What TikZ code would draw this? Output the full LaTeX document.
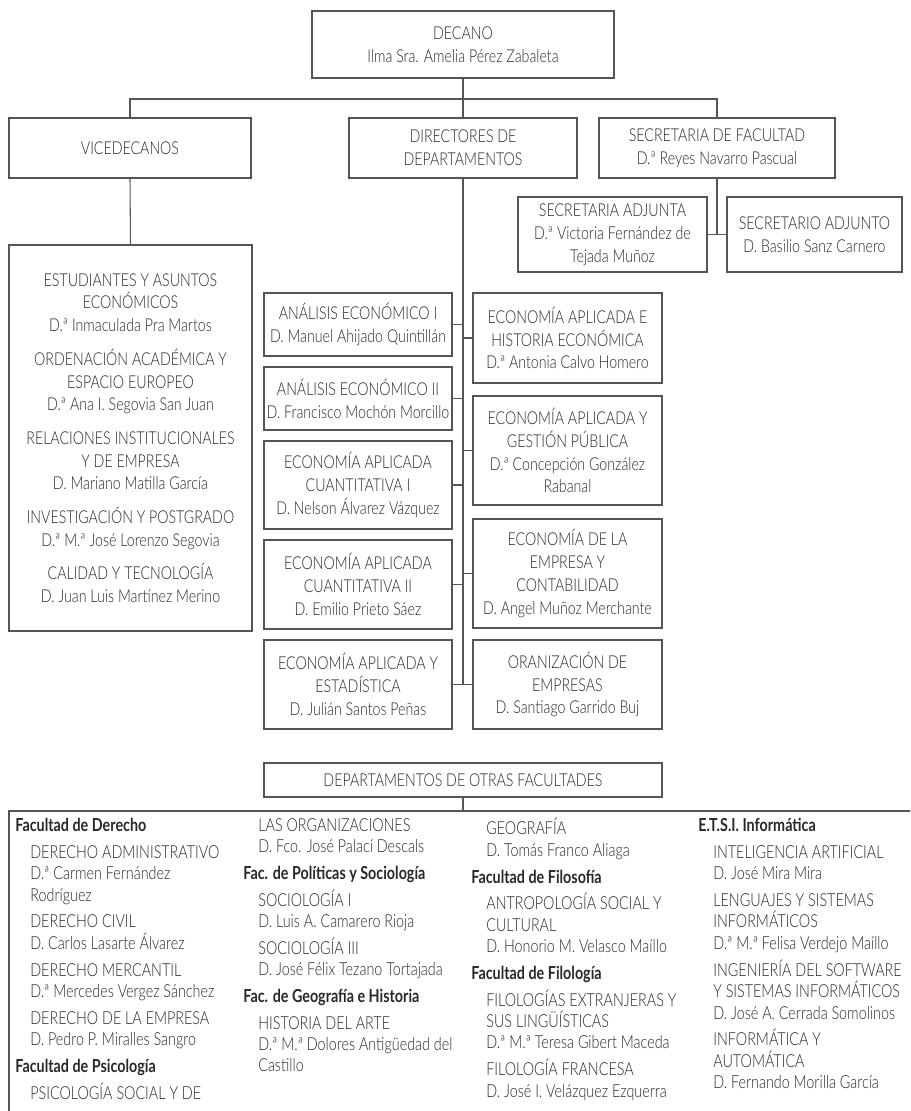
\documentclass[tikz,border=0pt]{standalone}
\usepackage{fontspec}
\setmainfont{Lato}[UprightFont=* Light, BoldFont=* Bold, FakeStretch=0.80]
\definecolor{inkgray}{RGB}{40,40,40}
\definecolor{linegray}{RGB}{85,85,85}
\tikzset{
  box-size/.style 2 args={minimum width=#1*0.2mm, minimum height=#2*0.2mm},
  org-box/.style={
    draw=linegray,
    line width=0.6pt,
    inner sep=0pt,
    align=center,
    text=inkgray,
    font=\fontsize{10.1}{13}\selectfont
  },
  link/.style={draw=linegray, line width=0.6pt},
  col-text/.style={
    anchor=north west,
    inner sep=0pt,
    align=left,
    text=inkgray,
    font=\fontsize{10.2}{12.2}\selectfont
  }
}
\newcommand{\fachead}[1]{\textbf{#1}}
\newcommand{\deptline}[1]{\hspace*{3mm}#1}

\begin{document}
\begin{tikzpicture}[x=0.2mm, y=-0.2mm]
  \useasboundingbox (0,0) rectangle (910,1111);
  \clip (0,0) rectangle (910,1111);

  % Top level
  \node[org-box, box-size={302}{67}] (decano) at (463,44.5) {DECANO\\Ilma Sra. Amelia Pérez Zabaleta};
  \coordinate (bus) at (463,99);

  \node[org-box, box-size={242}{60}] (vice) at (130,148) {VICEDECANOS};
  \node[org-box, box-size={228}{60}] (dir) at (463,148) {DIRECTORES DE\\DEPARTAMENTOS};
  \node[org-box, box-size={236}{60}] (secr) at (717,148) {SECRETARIA DE FACULTAD\\D.ª Reyes Navarro Pascual};

  % Secretarias adjuntas
  \node[org-box, box-size={189}{75}] (secadja) at (612.5,234.5) {SECRETARIA ADJUNTA\\D.ª Victoria Fernández de\\Tejada Muñoz};
  \node[org-box, box-size={175}{75}] (secadjo) at (814.5,234.5) {SECRETARIO ADJUNTO\\D. Basilio Sanz Carnero};

  % Vicedecanos list
  \node[org-box, box-size={243}{386}] (vicelist) at (130.5,438) {%
    ESTUDIANTES Y ASUNTOS\\ECONÓMICOS\\D.ª Inmaculada Pra Martos\\[6pt]
    ORDENACIÓN ACADÉMICA Y\\ESPACIO EUROPEO\\D.ª Ana I. Segovia San Juan\\[6pt]
    RELACIONES INSTITUCIONALES\\Y DE EMPRESA\\D. Mariano Matilla García\\[6pt]
    INVESTIGACIÓN Y POSTGRADO\\D.ª M.ª José Lorenzo Segovia\\[6pt]
    CALIDAD Y TECNOLOGÍA\\D. Juan Luis Martínez Merino};

  % Departamentos, left column
  \node[org-box, box-size={188}{63}] (anaeco1) at (358,324.5) {ANÁLISIS ECONÓMICO I\\D. Manuel Ahijado Quintillán};
  \node[org-box, box-size={188}{63}] (anaeco2) at (358,398.5) {ANÁLISIS ECONÓMICO II\\D. Francisco Mochón Morcillo};
  \node[org-box, box-size={188}{88}] (eacuant1) at (358,485) {ECONOMÍA APLICADA\\CUANTITATIVA I\\D. Nelson Álvarez Vázquez};
  \node[org-box, box-size={188}{89}] (eacuant2) at (358,584.5) {ECONOMÍA APLICADA\\CUANTITATIVA II\\D. Emilio Prieto Sáez};
  \node[org-box, box-size={188}{89}] (eaest) at (358,684.5) {ECONOMÍA APLICADA Y\\ESTADÍSTICA\\D. Julián Santos Peñas};

  % Departamentos, right column
  \node[org-box, box-size={189}{90}] (eahist) at (567.5,338) {ECONOMÍA APLICADA E\\HISTORIA ECONÓMICA\\D.ª Antonia Calvo Homero};
  \node[org-box, box-size={189}{109}] (eagest) at (567.5,450.5) {ECONOMÍA APLICADA Y\\GESTIÓN PÚBLICA\\D.ª Concepción González\\Rabanal};
  \node[org-box, box-size={189}{109}] (eemp) at (567.5,573.5) {ECONOMÍA DE LA\\EMPRESA Y\\CONTABILIDAD\\D. Angel Muñoz Merchante};
  \node[org-box, box-size={189}{89}] (orgemp) at (567.5,684.5) {ORANIZACIÓN DE\\EMPRESAS\\D. Santiago Garrido Buj};

  % Otras facultades
  \node[org-box, box-size={398}{34}] (otras) at (463,780) {DEPARTAMENTOS DE OTRAS FACULTADES};
  \coordinate (panel) at (9,811);

  % Tree lines
  \draw[link] (decano.south) -- (bus);
  \draw[link] (vice.north) -- (vice.north |- bus) -- (secr.north |- bus) -- (secr.north);
  \draw[link] (bus) -- (dir.north);
  \draw[link] (vice.south) -- (vicelist.north);
  \draw[link] (secr.south) -- (secr.south |- secadja.east);
  \draw[link] (secadja.east) -- (secadjo.west);

  % Spine of the departments
  \draw[link] (dir.south) -- (dir.south |- eaest.east);
  \foreach \dep in {anaeco1, anaeco2, eacuant1, eacuant2, eaest}
    \draw[link] (\dep.east) -- (\dep.east -| dir.south);
  \foreach \dep in {eahist, eagest, eemp, orgemp}
    \draw[link] (\dep.west) -- (\dep.west -| dir.south);

  % Lower panel
  \draw[link] (otras.south) -- (otras.south |- panel);
  \draw[link] (9,1140) -- (panel) -- (930,811);

  \node[col-text] (col-a) at (15,818) {%
    \fachead{Facultad de Derecho}\\[3pt]
    \deptline{DERECHO ADMINISTRATIVO}\\
    \deptline{D.ª Carmen Fernández}\\
    \deptline{Rodríguez}\\[3pt]
    \deptline{DERECHO CIVIL}\\
    \deptline{D. Carlos Lasarte Álvarez}\\[3pt]
    \deptline{DERECHO MERCANTIL}\\
    \deptline{D.ª Mercedes Vergez Sánchez}\\[3pt]
    \deptline{DERECHO DE LA EMPRESA}\\
    \deptline{D. Pedro P. Miralles Sangro}\\[3pt]
    \fachead{Facultad de Psicología}\\[3pt]
    \deptline{PSICOLOGÍA SOCIAL Y DE}};

  \node[col-text] (col-b) at (243,818) {%
    \deptline{LAS ORGANIZACIONES}\\
    \deptline{D. Fco. José Palací Descals}\\[3pt]
    \fachead{Fac. de Políticas y Sociología}\\[3pt]
    \deptline{SOCIOLOGÍA I}\\
    \deptline{D. Luis A. Camarero Rioja}\\[3pt]
    \deptline{SOCIOLOGÍA III}\\
    \deptline{D. José Félix Tezano Tortajada}\\[3pt]
    \fachead{Fac. de Geografía e Historia}\\[3pt]
    \deptline{HISTORIA DEL ARTE}\\
    \deptline{D.ª M.ª Dolores Antigüedad del}\\
    \deptline{Castillo}};

  \node[col-text] (col-c) at (471,818) {%
    \deptline{GEOGRAFÍA}\\
    \deptline{D. Tomás Franco Aliaga}\\[3pt]
    \fachead{Facultad de Filosofía}\\[3pt]
    \deptline{ANTROPOLOGÍA SOCIAL Y}\\
    \deptline{CULTURAL}\\
    \deptline{D. Honorio M. Velasco Maíllo}\\[3pt]
    \fachead{Facultad de Filología}\\[3pt]
    \deptline{FILOLOGÍAS EXTRANJERAS Y}\\
    \deptline{SUS LINGÜÍSTICAS}\\
    \deptline{D.ª M.ª Teresa Gibert Maceda}\\[3pt]
    \deptline{FILOLOGÍA FRANCESA}\\
    \deptline{D. José I. Velázquez Ezquerra}};

  \node[col-text] (col-d) at (698,818) {%
    \fachead{E.T.S.I. Informática}\\[3pt]
    \deptline{INTELIGENCIA ARTIFICIAL}\\
    \deptline{D. José Mira Mira}\\[3pt]
    \deptline{LENGUAJES Y SISTEMAS}\\
    \deptline{INFORMÁTICOS}\\
    \deptline{D.ª M.ª Felisa Verdejo Maíllo}\\[3pt]
    \deptline{INGENIERÍA DEL SOFTWARE}\\
    \deptline{Y SISTEMAS INFORMÁTICOS}\\
    \deptline{D. José A. Cerrada Somolinos}\\[3pt]
    \deptline{INFORMÁTICA Y}\\
    \deptline{AUTOMÁTICA}\\
    \deptline{D. Fernando Morilla García}};

\end{tikzpicture}
\end{document}
